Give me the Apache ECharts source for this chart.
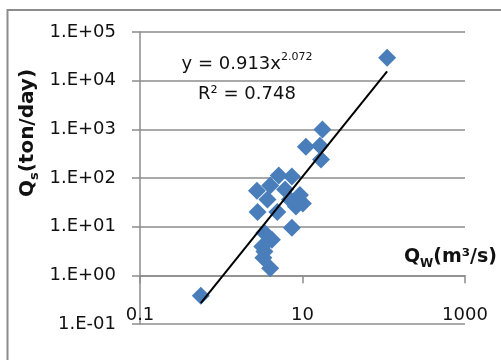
<!DOCTYPE html>
<html><head><meta charset="utf-8">
<script src="https://cdn.jsdelivr.net/npm/echarts@6/dist/echarts.min.js"></script>
<style>html,body{margin:0;padding:0;background:#fff}#c{width:501px;height:360px}</style>
</head><body><div id="c"></div>
<script>
// Observed points: water discharge Qw (m3/s) vs sediment discharge Qs (ton/day)
const qw = [110, 17.6, 11.0, 16.4, 16.9, 5.1, 7.4, 4.0, 2.75, 6.1, 9.3, 10.1, 8.3, 2.8, 4.9, 3.7, 7.0, 7.4, 3.4, 4.2, 3.2, 3.4, 3.3, 4.0, 0.56];
const qs = [29700, 990, 440, 460, 240, 112, 107, 70, 55, 58, 45, 30, 26, 20, 20, 36, 36, 9.5, 7.5, 5.4, 3.9, 3.1, 2.3, 1.4, 0.38];
// Trendline endpoints (power fit y = 0.913x^2.072)
const trendQw = [0.56, 110];
const trendQs = [0.27, 15500];
const xTickValues = [0.1, 10, 1000];
const xTickLabels = ['0.1', '10', '1000'];
const yTickExps = [-1, 0, 1, 2, 3, 4, 5];
const yTickLabels = ['1.E-01', '1.E+00', '1.E+01', '1.E+02', '1.E+03', '1.E+04', '1.E+05'];
const eqMain = 'y = 0.913x';
const eqExp = '2.072';
const r2Text = 'R² = 0.748';

const FONT = 'DejaVu Sans';
const GRAY = '#8c8c8c';
const scatterData = qw.map((x, i) => [x, qs[i]]);
const trendData = trendQw.map((x, i) => [x, trendQs[i]]);

const chart = echarts.init(document.getElementById('c'), null, {renderer: 'canvas'});
chart.setOption({
  animation: false,
  backgroundColor: '#fff',
  grid: {left: 140, top: 32, width: 325, height: 292, containLabel: false},
  xAxis: {
    type: 'log', logBase: 10, min: 0.1, max: 1000, interval: 2,
    position: 'bottom', offset: -48.67,
    axisLine: {show: true, lineStyle: {color: GRAY, width: 1.5}},
    axisTick: {show: true, length: 8, lineStyle: {color: GRAY, width: 1.5}},
    splitLine: {show: false},
    axisLabel: {
      margin: 31, fontFamily: FONT, fontSize: 18, color: '#111',
      formatter: v => {
        for (let i = 0; i < xTickValues.length; i++) {
          if (Math.abs(Math.log10(v) - Math.log10(xTickValues[i])) < 1e-6) return xTickLabels[i];
        }
        return '';
      }
    }
  },
  yAxis: {
    type: 'log', logBase: 10, min: 0.1, max: 100000,
    axisLine: {show: true, lineStyle: {color: GRAY, width: 1.5}},
    axisTick: {show: true, length: 8, lineStyle: {color: GRAY, width: 1.5}},
    splitLine: {show: true, lineStyle: {color: GRAY, width: 1.5}},
    axisLabel: {
      margin: 24, fontFamily: FONT, fontSize: 18, color: '#111',
      formatter: v => {
        const e = Math.round(Math.log10(v));
        const i = yTickExps.indexOf(e);
        return i >= 0 ? yTickLabels[i] : '';
      }
    }
  },
  series: [
    {
      type: 'scatter', data: scatterData, symbol: 'diamond', symbolSize: 18,
      itemStyle: {color: '#4a7ebb', opacity: 1}, z: 2
    },
    {
      type: 'line', data: trendData, symbol: 'none', silent: true,
      lineStyle: {color: '#000', width: 2}, z: 3
    }
  ],
  graphic: [
    {type: 'rect', shape: {x: 7.5, y: 10, width: 700, height: 700}, style: {fill: 'none', stroke: GRAY, lineWidth: 2}, z: 0, silent: true},
    {type: 'text', x: 247, y: 64, z: 10, style: {
      x: 0, y: 0, align: 'center', verticalAlign: 'middle',
      text: '{a|' + eqMain + '}{b|' + eqExp + '}',
      rich: {
        a: {fontFamily: FONT, fontSize: 18, lineHeight: 24, fill: '#111', verticalAlign: 'middle'},
        b: {fontFamily: FONT, fontSize: 11, lineHeight: 12, fill: '#111', verticalAlign: 'top'}
      }
    }},
    {type: 'text', x: 247, y: 94, z: 10, style: {
      x: 0, y: 0, align: 'center', verticalAlign: 'middle',
      text: r2Text, fontFamily: FONT, fontSize: 18, fill: '#111'
    }},
    {type: 'text', x: 497, y: 257, z: 10, style: {
      x: 0, y: 0, align: 'right', verticalAlign: 'middle',
      text: '{a|Q}{b|W}{a|(m³/s)}',
      rich: {
        a: {fontFamily: FONT, fontSize: 19, fontWeight: 'bold', lineHeight: 26, fill: '#111'},
        b: {fontFamily: FONT, fontSize: 12, fontWeight: 'bold', lineHeight: 10, fill: '#111', verticalAlign: 'bottom'}
      }
    }},
    {type: 'text', x: 28, y: 133, rotation: Math.PI / 2, z: 10, style: {
      x: 0, y: 0, align: 'center', verticalAlign: 'middle',
      text: '{a|Q}{b|s}{a|(ton/day)}',
      rich: {
        a: {fontFamily: FONT, fontSize: 20, fontWeight: 'bold', lineHeight: 26, fill: '#111'},
        b: {fontFamily: FONT, fontSize: 13, fontWeight: 'bold', lineHeight: 10, fill: '#111', verticalAlign: 'bottom'}
      }
    }}
  ]
});
</script>
</body></html>
